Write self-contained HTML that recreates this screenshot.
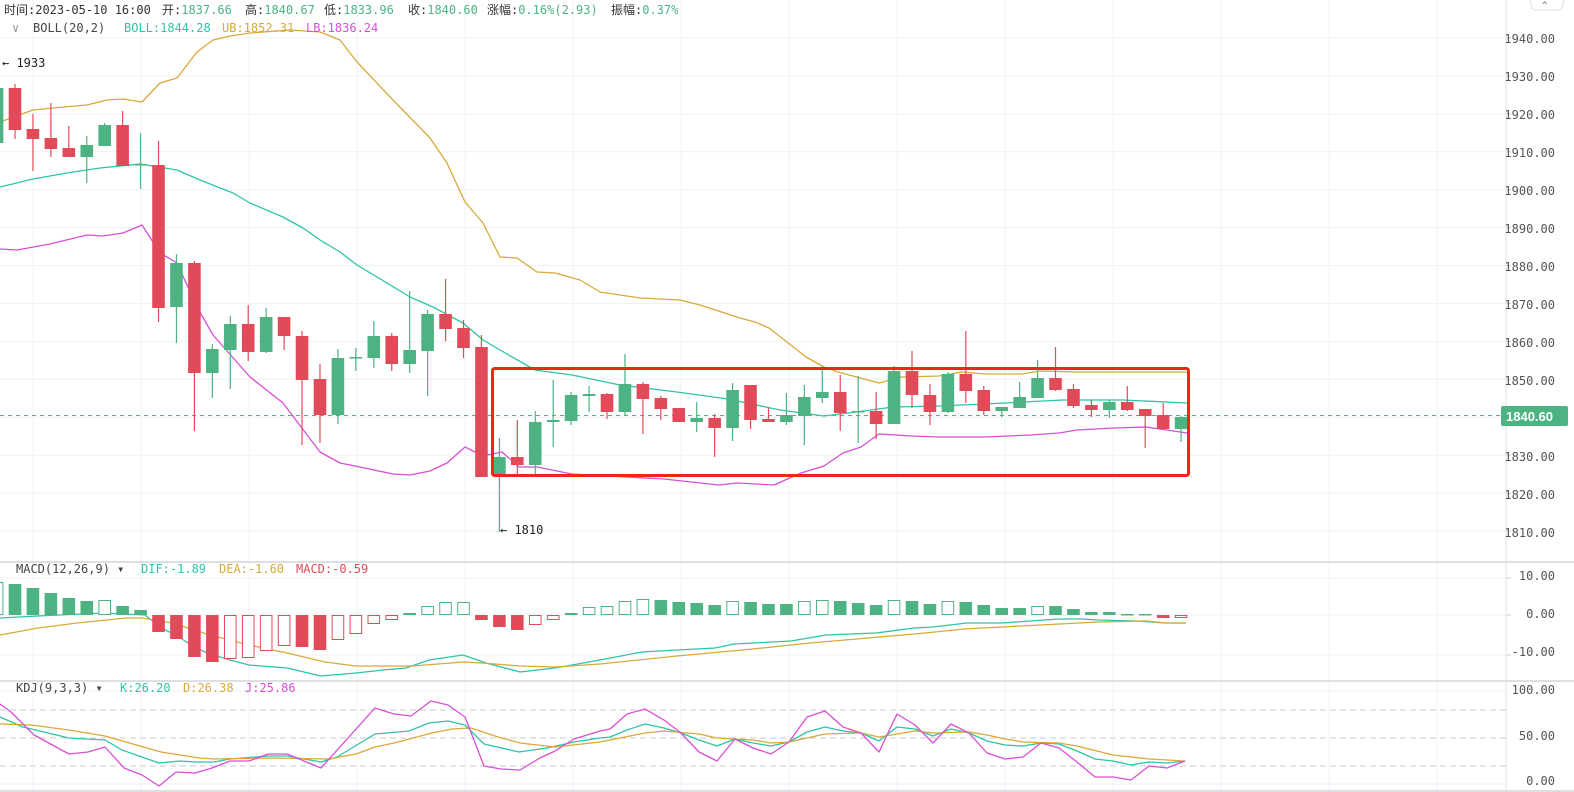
<!DOCTYPE html>
<html><head><meta charset="utf-8"><style>
html,body{margin:0;padding:0;background:#fff;width:1574px;height:792px;overflow:hidden}
svg{display:block}
text{font-family:"DejaVu Sans Mono","Liberation Mono","Noto Sans CJK SC",monospace;font-size:12px}
.ax{font-family:"Liberation Sans","DejaVu Sans",sans-serif;font-size:13px;fill:#555}
</style></head><body>
<svg id="s" width="1574" height="792" viewBox="0 0 1574 792" xmlns="http://www.w3.org/2000/svg">
<g id="grid"></g>
<g id="lines"></g>
<g id="cand"></g>
<!-- header -->
<text x="4" y="14" fill="#333">时间:2023-05-10 16:00</text>
<text x="162" y="14" fill="#333">开:<tspan fill="#4db383">1837.66</tspan></text>
<text x="245" y="14" fill="#333">高:<tspan fill="#4db383">1840.67</tspan></text>
<text x="324" y="14" fill="#333">低:<tspan fill="#4db383">1833.96</tspan></text>
<text x="408" y="14" fill="#333">收:<tspan fill="#4db383">1840.60</tspan></text>
<text x="487" y="14" fill="#333">涨幅:<tspan fill="#4db383">0.16%(2.93)</tspan></text>
<text x="611" y="14" fill="#333">振幅:<tspan fill="#4db383">0.37%</tspan></text>
<text x="12" y="32" fill="#999">∨</text>
<text x="33" y="32" fill="#444">BOLL(20,2)</text>
<text x="124" y="32" fill="#2ec4a5">BOLL:1844.28</text>
<text x="222" y="32" fill="#d9a93a">UB:1852.31</text>
<text x="306" y="32" fill="#d84fd6">LB:1836.24</text>
<text x="2" y="67" fill="#222">← 1933</text>
<text x="500" y="534" fill="#222">← 1810</text>
<text x="16" y="573" fill="#444">MACD(12,26,9) ▾</text>
<text x="141" y="573" fill="#2ec4a5">DIF:-1.89</text>
<text x="219" y="573" fill="#d9a93a">DEA:-1.60</text>
<text x="296" y="573" fill="#e14b59">MACD:-0.59</text>
<text x="16" y="692" fill="#444">KDJ(9,3,3) ▾</text>
<text x="120" y="692" fill="#2ec4a5">K:26.20</text>
<text x="183" y="692" fill="#d9a93a">D:26.38</text>
<text x="245" y="692" fill="#d84fd6">J:25.86</text>
<!-- red box -->
<rect x="492.5" y="368.5" width="696" height="107" rx="2" fill="none" stroke="#f5241b" stroke-width="3"/>
<!-- right axis -->
<g class="ax" text-anchor="end">
<text x="1555" y="43">1940.00</text><text x="1555" y="81">1930.00</text><text x="1555" y="119">1920.00</text>
<text x="1555" y="157">1910.00</text><text x="1555" y="195">1900.00</text><text x="1555" y="233">1890.00</text>
<text x="1555" y="271">1880.00</text><text x="1555" y="309">1870.00</text><text x="1555" y="347">1860.00</text>
<text x="1555" y="385">1850.00</text><text x="1555" y="461">1830.00</text>
<text x="1555" y="499">1820.00</text><text x="1555" y="537">1810.00</text>
<text x="1555" y="580">10.00</text><text x="1555" y="618">0.00</text><text x="1555" y="656">-10.00</text>
<text x="1555" y="694">100.00</text><text x="1555" y="740">50.00</text><text x="1555" y="785">0.00</text>
</g>
<rect x="1501" y="406" width="67" height="20" rx="2" fill="#4db383"/>
<text x="1506" y="421" class="ax" style="fill:#fff;font-weight:bold">1840.60</text>
<path d="M1530 0 L1532 8 Q1533 10 1536 10 L1558 10 Q1561 10 1562 8 L1564 0" fill="#fff" stroke="#dde0e4"/>
<text x="1542" y="8" fill="#666" style="font-size:9px">^</text>
</svg>
<script>
var NS="http://www.w3.org/2000/svg";
function el(p,t,a){var e=document.createElementNS(NS,t);for(var k in a)e.setAttribute(k,a[k]);p.appendChild(e);return e;}
var G=document.getElementById('grid'),L=document.getElementById('lines'),C=document.getElementById('cand');
var gc="#eef2f5";
for(var i=0;i<14;i++){var y=38+i*37.92;el(G,'line',{x1:0,x2:1506,y1:y,y2:y,stroke:gc});el(G,'line',{x1:1506,x2:1511,y1:y,y2:y,stroke:"#ccc"});}
[578,615,655].forEach(function(y){el(G,'line',{x1:0,x2:1506,y1:y,y2:y,stroke:gc});el(G,'line',{x1:1506,x2:1511,y1:y,y2:y,stroke:"#ccc"});});
[691,784].forEach(function(y){el(G,'line',{x1:0,x2:1506,y1:y,y2:y,stroke:gc});});
[710,738,766].forEach(function(y){el(G,'line',{x1:0,x2:1506,y1:y,y2:y,stroke:"#c8c8c8","stroke-dasharray":"6,4"});});
for(var x=33;x<1506;x+=108){el(G,'line',{x1:x,x2:x,y1:0,y2:792,stroke:gc});}
el(G,'line',{x1:1506,x2:1506,y1:0,y2:792,stroke:"#dfe2e6"});
el(G,'line',{x1:0,x2:1574,y1:562,y2:562,stroke:"#dcdfe4","stroke-width":2});
el(G,'line',{x1:0,x2:1574,y1:681,y2:681,stroke:"#dcdfe4","stroke-width":2});
el(G,'line',{x1:0,x2:1574,y1:791,y2:791,stroke:"#dcdfe4","stroke-width":2});
el(G,'line',{x1:0,x2:1506,y1:415.5,y2:415.5,stroke:"#4db383","stroke-dasharray":"4,4"});
function pl(pts,col){el(L,'polyline',{points:pts.map(function(p){return p.join(',')}).join(' '),fill:'none',stroke:col,"stroke-width":1.3,"stroke-linejoin":"round"});}
var TEAL="#2ec4a5",GOLD="#d9a93a",MAG="#d84fd6";
pl([[0,187],[33,179],[67,173],[100,168],[140,164],[177,170],[200,180],[233,193],[250,203],[283,217],[303,228],[320,240],[340,252],[357,265],[377,277],[410,297],[433,307],[463,323],[483,340],[500,350],[535,370],[572,375],[620,385],[677,392],[728,399],[780,410],[824,416],[856,412],[893,407],[939,406],[985,404],[1063,400],[1123,400],[1187,403]],TEAL);
pl([[0,122],[33,110],[53,108],[87,105],[107,100],[123,99],[142,102],[160,83],[177,78],[197,52],[213,40],[230,36],[250,33],[290,30],[320,32],[340,40],[357,62],[393,100],[430,138],[447,163],[465,202],[483,223],[500,257],[517,258],[537,272],[555,273],[580,280],[600,292],[640,298],[680,300],[700,305],[740,318],[755,322],[769,328],[806,357],[824,367],[838,372],[879,383],[902,377],[939,376],[962,372],[985,374],[1022,374],[1040,371],[1077,372],[1187,372]],GOLD);
pl([[0,249],[17,250],[50,244],[87,235],[103,236],[123,233],[142,225],[160,253],[177,263],[197,307],[213,335],[250,377],[283,403],[320,452],[340,463],[360,467],[393,474],[410,475],[430,471],[447,463],[465,447],[483,456],[502,452],[519,467],[537,467],[572,474],[664,479],[719,485],[737,483],[774,485],[801,473],[824,466],[843,453],[861,447],[879,434],[912,436],[939,437],[985,437],[1031,435],[1059,433],[1077,430],[1114,428],[1146,427],[1187,433]],MAG);
pl([[0,618],[38,616],[103,613],[145,615],[161,628],[176,635],[191,645],[207,653],[230,660],[249,665],[287,668],[321,676],[356,673],[383,670],[406,668],[429,660],[463,655],[486,663],[520,672],[555,668],[600,660],[642,652],[677,650],[715,648],[734,644],[791,641],[826,635],[876,633],[914,628],[933,627],[967,623],[1002,623],[1059,619],[1082,619],[1098,620],[1136,621],[1166,623],[1186,623]],TEAL);
pl([[0,635],[38,628],[77,623],[126,618],[142,618],[172,623],[210,635],[249,645],[287,653],[325,662],[356,666],[413,666],[463,662],[482,663],[520,666],[555,667],[600,664],[677,656],[753,649],[810,643],[868,638],[925,633],[964,629],[1040,625],[1098,622],[1147,621],[1166,623],[1186,623]],GOLD);
pl([[0,717],[23,727],[69,738],[105,740],[122,750],[159,763],[180,761],[195,762],[214,762],[230,759],[268,756],[287,756],[321,762],[337,757],[375,734],[409,731],[429,723],[448,721],[465,725],[484,744],[519,752],[547,748],[574,742],[600,738],[610,737],[627,730],[645,724],[664,728],[681,733],[699,740],[717,746],[735,739],[753,743],[771,746],[789,742],[807,732],[825,727],[843,731],[861,733],[879,741],[897,727],[915,729],[933,736],[951,729],[969,733],[987,741],[1005,745],[1023,746],[1041,743],[1059,744],[1077,751],[1095,759],[1113,761],[1131,765],[1149,762],[1167,763],[1185,761]],TEAL);
pl([[0,724],[31,725],[69,730],[105,736],[161,752],[199,758],[214,759],[268,758],[329,759],[356,754],[375,747],[394,743],[413,738],[432,733],[452,729],[471,728],[498,737],[520,743],[555,747],[600,742],[645,733],[664,731],[699,734],[717,738],[753,740],[771,743],[789,742],[825,734],[861,733],[879,737],[915,731],[933,733],[969,732],[987,735],[1005,739],[1023,742],[1059,743],[1077,746],[1113,755],[1149,759],[1185,761]],GOLD);
pl([[0,704],[11,712],[34,735],[69,754],[88,752],[105,747],[124,768],[142,775],[159,786],[176,772],[195,773],[212,768],[230,761],[249,761],[268,754],[287,754],[321,768],[375,708],[394,714],[411,716],[431,701],[448,705],[465,717],[484,766],[501,769],[520,770],[540,758],[555,751],[574,739],[600,731],[610,729],[627,714],[645,709],[664,720],[681,733],[699,752],[717,761],[735,739],[753,748],[771,754],[789,742],[807,717],[825,711],[843,727],[861,733],[879,752],[897,714],[915,725],[933,743],[951,724],[969,733],[987,753],[1005,759],[1023,757],[1041,743],[1059,748],[1077,762],[1095,777],[1113,777],[1131,780],[1149,766],[1167,768],[1185,761]],MAG);
var GR="#4db383",RD="#e14b59";
var d=[[-1,'g',88,143,88,143],[0,'r',88,130,84,139],[1,'r',129,139,114,171],[2,'r',138,149,103,157],[3,'r',148,157,126,157],[4,'g',145,157,136,183],[5,'g',125,146,123,146],[6,'r',125,166,111,166],[7,'g',164,165,133,189],[8,'r',165,308,141,322],[9,'g',263,307,254,343],[10,'r',263,373,261,431],[11,'g',349,373,344,398],[12,'g',324,350,316,389],[13,'r',324,352,305,361],[14,'g',317,352,308,353],[15,'r',317,336,317,350],[16,'r',336,380,331,445],[17,'r',379,415,364,443],[18,'g',358,415,349,424],[19,'g',357,358,348,371],[20,'g',336,358,321,368],[21,'r',336,364,333,371],[22,'g',350,364,291,373],[23,'g',314,351,310,396],[24,'r',314,329,279,341],[25,'r',328,348,320,358],[26,'r',347,477,335,477],[27,'g',457,476,438,532],[28,'r',457,465,420,475],[29,'g',422,465,411,475],[30,'g',420,422,380,447],[31,'g',395,421,392,425],[32,'g',394,396,386,412],[33,'r',394,412,393,419],[34,'g',384,412,354,415],[35,'r',384,399,382,434],[36,'r',398,409,396,420],[37,'r',408,422,408,422],[38,'g',418,422,402,432],[39,'r',418,428,414,457],[40,'g',390,428,383,441],[41,'r',385,420,385,429],[42,'r',419,422,408,422],[43,'g',415,422,393,425],[44,'g',397,416,385,445],[45,'g',392,398,366,403],[46,'r',392,413,375,431],[47,'g',411,412,376,443],[48,'r',411,424,392,439],[49,'g',371,424,366,424],[50,'r',371,395,351,408],[51,'r',395,412,384,425],[52,'g',374,412,372,413],[53,'r',374,391,331,403],[54,'r',390,411,386,415],[55,'g',407,411,407,417],[56,'g',397,408,382,408],[57,'g',378,398,360,398],[58,'r',378,390,347,391],[59,'r',389,406,384,408],[60,'r',405,410,400,417],[61,'g',402,410,400,418],[62,'r',402,410,386,411],[63,'r',409,416,409,448],[64,'r',415,429,403,429],[65,'g',417,429,416,442]];
function X(i){return 15+17.94*i;}
d.forEach(function(c){var x=X(c[0]),col=c[1]=='g'?GR:RD;
el(C,'line',{x1:x,x2:x,y1:c[4],y2:c[5],stroke:col,"stroke-width":1.2});
el(C,'rect',{x:x-6.3,y:c[2],width:12.6,height:Math.max(1.5,c[3]-c[2]),fill:col});});
var Z=615;
var m=[[-1,'g',582],[0,'G',584],[1,'G',588],[2,'G',593],[3,'G',598],[4,'G',601],[5,'g',600],[6,'G',606],[7,'G',610],[8,'R',632],[9,'R',639],[10,'R',657],[11,'R',662],[12,'r',659],[13,'r',658],[14,'r',651],[15,'r',646],[16,'R',647],[17,'R',650],[18,'r',640],[19,'r',634],[20,'r',624],[21,'r',620],[22,'G',613],[23,'g',606],[24,'g',602],[25,'g',602],[26,'R',620],[27,'R',627],[28,'R',630],[29,'r',625],[30,'r',620],[31,'g',613],[32,'g',607],[33,'g',606],[34,'g',601],[35,'g',599],[36,'G',600],[37,'G',602],[38,'G',603],[39,'G',605],[40,'g',601],[41,'G',602],[42,'G',604],[43,'G',604],[44,'g',601],[45,'g',600],[46,'G',601],[47,'G',603],[48,'G',605],[49,'g',600],[50,'G',601],[51,'G',604],[52,'g',601],[53,'G',602],[54,'G',605],[55,'G',608],[56,'G',608],[57,'g',606],[58,'G',606],[59,'G',609],[60,'G',612],[61,'G',612],[62,'G',614],[63,'G',614],[64,'R',618],[65,'r',618]];
m.forEach(function(b){var x=X(b[0]);var up=(b[1]=='g'||b[1]=='G');var col=up?GR:RD;var y1=up?b[2]:Z,y2=up?Z:b[2];var h=Math.max(1.5,y2-y1);
if(b[1]=='G'||b[1]=='R')el(C,'rect',{x:x-6.3,y:y1,width:12.6,height:h,fill:col});
else el(C,'rect',{x:x-5.8,y:y1+0.5,width:11.6,height:Math.max(1,h-1),fill:'#fff',stroke:col,"stroke-width":1});});
</script>
</body></html>
